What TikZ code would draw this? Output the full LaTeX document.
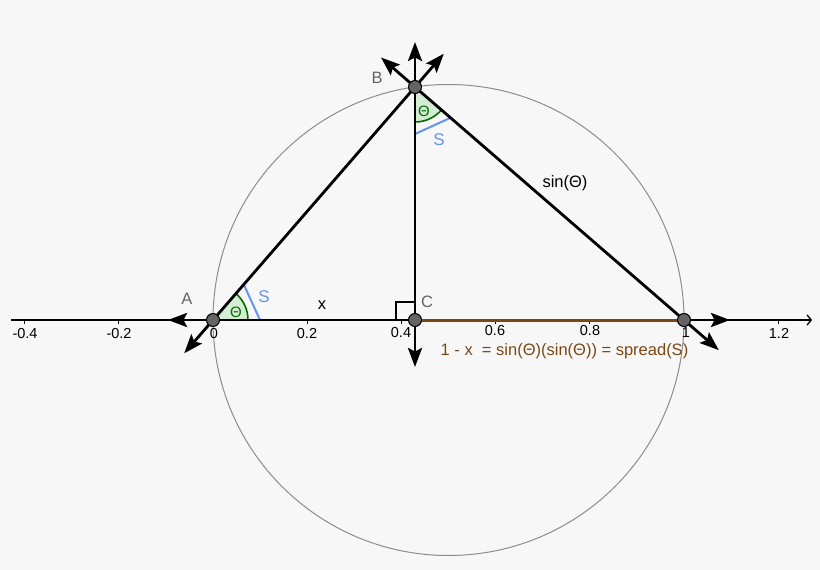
\documentclass[tikz,border=0pt]{standalone}
\usepackage{fontspec}
\setmainfont{Liberation Sans}
\usetikzlibrary{arrows.meta,calc}
\definecolor{bgc}{RGB}{247,247,247}
\definecolor{ptgray}{RGB}{100,100,100}
\definecolor{lblgray}{RGB}{100,100,100}
\definecolor{circgray}{RGB}{140,140,140}
\definecolor{brownc}{RGB}{122,72,20}
\definecolor{angfill}{RGB}{212,235,212}
\definecolor{angline}{RGB}{0,110,0}
\definecolor{sblue}{RGB}{100,149,237}
\tikzset{
  mainline/.style={line width=2.8pt, black},
  ray/.style={line width=2.8pt, black, -{Stealth[length=19pt,width=14pt,inset=3.5pt]}},
  pt/.style={circle, fill=ptgray, draw=black, line width=1pt, minimum size=13pt, inner sep=0pt},
  ptlbl/.style={text=lblgray, font=\fontsize{16.5}{18}\selectfont, inner sep=0pt},
  ticklbl/.style={font=\fontsize{14.5}{16}\selectfont, inner sep=0pt},
  txt/.style={font=\fontsize{16.5}{18}\selectfont, inner sep=0pt},
  thlbl/.style={text=angline, font=\fontsize{15}{17}\selectfont, inner sep=0pt},
  slbl/.style={text=sblue, font=\fontsize{17}{19}\selectfont, inner sep=0pt},
}
\begin{document}
\begin{tikzpicture}[x=1pt,y=-1pt]
\useasboundingbox (0,0) rectangle (820,570);
\fill[bgc] (0,0) rectangle (820,570);
% circle
\node[draw=circgray, line width=1pt, circle, minimum size=471pt, inner sep=0pt] (circ) at (448.5,320) {};
% axis
\coordinate (axL) at (11,320);
\coordinate (axR) at (812,320);
\draw[line width=1.3pt, -{Straight Barb[length=4pt,width=10pt]}] (axL) -- (axR);
\foreach \px in {24.6,118.8,307.2,401.4,495.6,589.8,778.2}{
  \draw[line width=1pt] (\px,320) -- (\px,324);
}
\node[ticklbl] (tm4) at (25,334) {-0.4};
\node[ticklbl] (tm2) at (119,334) {-0.2};
\node[ticklbl] (t0) at (214,334) {0};
\node[ticklbl] (t2) at (307,334) {0.2};
\node[ticklbl] (t4) at (401,333) {0.4};
\node[ticklbl] (t6) at (495,331) {0.6};
\node[ticklbl] (t8) at (590,331) {0.8};
\node[ticklbl] (t10) at (686,333) {1};
\node[ticklbl] (t12) at (779,333) {1.2};
% points
\coordinate (Ap) at (213,320);
\coordinate (Bp) at (415,87);
\coordinate (Cp) at (415,320);
\coordinate (Dp) at (684,320);
% angle sectors
\fill[angfill] (Ap) -- ++(0:35) arc[start angle=0,end angle=-49.07,radius=35] -- cycle;
\draw[angline, line width=1.6pt] (Ap) ++(0:35) arc[start angle=0,end angle=-49.07,radius=35];
\fill[angfill] (Bp) -- ++(90:35) arc[start angle=90,end angle=40.89,radius=35] -- cycle;
\draw[angline, line width=1.6pt] (Bp) ++(90:35) arc[start angle=90,end angle=40.89,radius=35];
% S chords
\draw[sblue, line width=2pt] ($(Ap)+(0:47)$) -- ($(Ap)+(-49.07:47)$);
\draw[sblue, line width=2pt] ($(Bp)+(90:47)$) -- ($(Bp)+(40.89:47)$);
% right angle
\draw[line width=1.1pt] (396,320) -- (396,302) -- (415,302);
% lines
\draw[line width=3pt, brownc] (Cp) -- (Dp);
\draw[mainline] (Ap) -- (Cp);
\draw[mainline] (Ap) -- (Bp);
\draw[mainline] (Bp) -- (Dp);
\draw[mainline] (Bp) -- (Cp);
% rays
\coordinate (A1) at (168,320);
\coordinate (A2) at (184.2,353.3);
\coordinate (B1) at (415,42);
\coordinate (B2) at (381,57.5);
\coordinate (B3) at (443.8,53.7);
\coordinate (C1) at (415,367);
\coordinate (D1) at (730,320);
\coordinate (D2) at (718.8,350.1);
\draw[ray] (Ap) -- (A1);
\draw[ray] (Ap) -- (A2);
\draw[ray] (Bp) -- (B1);
\draw[ray] (Bp) -- (B2);
\draw[ray] (Bp) -- (B3);
\draw[ray] (Cp) -- (C1);
\draw[ray] (Dp) -- (D1);
\draw[ray] (Dp) -- (D2);
% point nodes
\node[pt] (A) at (Ap) {};
\node[pt] (B) at (Bp) {};
\node[pt] (C) at (Cp) {};
\node[pt] (D) at (Dp) {};
% labels
\node[ptlbl] (lA) at (187,299) {A};
\node[ptlbl] (lB) at (377,78) {B};
\node[ptlbl] (lC) at (427,302) {C};
\node[thlbl] (thA) at (236,312) {Θ};
\node[thlbl] (thB) at (424,111) {Θ};
\node[slbl] (sA) at (264,297) {S};
\node[slbl] (sB) at (439,140) {S};
\node[txt] (lx) at (322,305) {x};
\node[txt] (lsin) at (565,183) {sin(Θ)};
\node[txt, text=brownc] (lbr) at (564.5,351) {1 - x \ = sin(Θ)(sin(Θ)) = spread(S)};
\end{tikzpicture}
\end{document}
